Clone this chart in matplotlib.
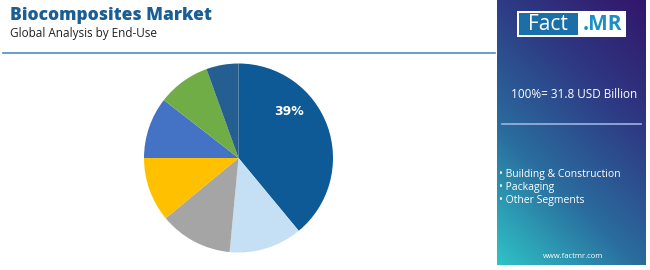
import numpy as np
import matplotlib.pyplot as plt
from matplotlib.patches import Rectangle
from matplotlib.colors import LinearSegmentedColormap

# данные
shares = [39, 12.5, 12.5, 11, 10.5, 9, 5.5]
colors = ['#0e5a96', '#c5e0f4', '#a5a5a5', '#ffc000', '#4472c4', '#70ad47', '#255e91']
big_label = '39%'
legend_items = ['Building & Construction', 'Packaging', 'Other Segments']
total_text = '100%= 31.8 USD Billion'

W, H = 650, 270
fig = plt.figure(figsize=(6.5, 2.7), dpi=100)
fig.patch.set_facecolor('white')

# заголовок
fig.text(10 / W, 1 - 15 / H, 'Biocomposites Market', fontsize=12.5, fontweight='heavy',
         color='#1a5e93', family='Open Sans', va='center', ha='left')
fig.text(10 / W, 1 - 33 / H, 'Global Analysis by End-Use', fontsize=8.5,
         color='#222222', family='Open Sans', va='center', ha='left')
fig.add_artist(plt.Line2D([3 / W, 495 / W], [1 - 52.5 / H, 1 - 52.5 / H],
                          color='#4a90c0', lw=1.2))

# круговая диаграмма
cx, cy, r = 238.5, 158, 94.5
ax = fig.add_axes([(cx - r) / W, (H - cy - r) / H, 2 * r / W, 2 * r / H])
ax.pie(shares, colors=colors, startangle=90, counterclock=False,
       wedgeprops=dict(linewidth=0))
ax.text(0.535, 0.487, big_label, color='white', fontweight='bold', fontsize=9,
        ha='center', va='center')
ax.set_xlim(-1, 1)
ax.set_ylim(-1, 1)
ax.set_aspect('equal')

# правая панель с градиентом
px0, px1 = 497, 646
pax = fig.add_axes([px0 / W, 5 / H, (px1 - px0) / W, 265 / H])
cmap = LinearSegmentedColormap.from_list('panel', ['#2fc3c6', '#2a6d9e', '#2e3a84', '#33166b'])
gx, gy = np.meshgrid(np.linspace(0, 1, 100), np.linspace(0, 1, 200))
grad = 0.35 * gx + 0.65 * gy
pax.imshow(grad, cmap=cmap, origin='lower', aspect='auto', extent=[0, 1, 0, 1])
pax.set_xlim(0, 1)
pax.set_ylim(0, 1)
pax.axis('off')

# логотип
lx0, lx1, ly0, ly1 = 517, 626, 11, 37
mid = 578
fig.add_artist(Rectangle((lx0 / W, 1 - ly1 / H), (lx1 - lx0) / W, (ly1 - ly0) / H,
                         facecolor='white', edgecolor='none'))
fig.add_artist(Rectangle(((lx0 + 2) / W, 1 - (ly1 - 2) / H), (mid - lx0 - 2) / W,
                         (ly1 - ly0 - 4) / H, facecolor='#1b6fa8', edgecolor='none'))
fig.text((lx0 + mid) / 2 / W, 1 - 24 / H, 'Fact', color='white', fontsize=15,
         family='Open Sans', ha='center', va='center')
fig.text((mid + lx1) / 2 / W, 1 - 24 / H, '.MR', color='#1a8fc9', fontsize=15,
         fontweight='bold', family='Open Sans', ha='center', va='center')

fig.text(574 / W, 1 - 94 / H, total_text, color='white', fontsize=8.5,
         family='Open Sans', ha='center', va='center')
fig.add_artist(plt.Line2D([502 / W, 641 / W], [1 - 124 / H, 1 - 124 / H],
                          color='#9fb4e0', lw=1.2))
for i, item in enumerate(legend_items):
    fig.text(499 / W, 1 - (174 + i * 13.5) / H, '\u2022 ' + item, color='white',
             fontsize=7.5, family='Open Sans', ha='left', va='center')
fig.text(573 / W, 1 - 256 / H, 'www.factmr.com', color='white', fontsize=5.5,
         family='Open Sans', ha='center', va='center')

fig.savefig('out.png', dpi=100)
